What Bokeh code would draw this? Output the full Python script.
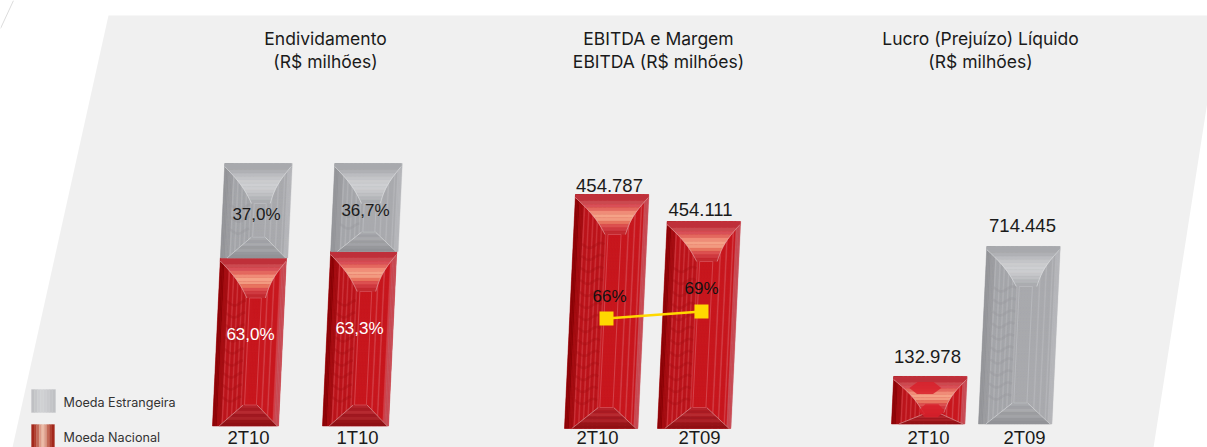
import math
from bokeh.plotting import figure
from bokeh.models import Range1d
from bokeh.core.properties import value
from bokeh.embed import file_html
from bokeh.resources import INLINE

# ---------- data ----------
debt_periods = ["2T10", "1T10"]
debt_national_labels = ["63,0%", "63,3%"]
debt_foreign_labels = ["37,0%", "36,7%"]
debt_national_drawn = [64.0, 66.5]     # share as drawn in the picture
debt_foreign_drawn = [36.0, 33.5]

ebitda_periods = ["2T10", "2T09"]
ebitda_labels = ["454.787", "454.111"]
ebitda_drawn = [454787, 402300]        # height as drawn in the picture
margin_values = [66, 69]
margin_labels = ["66%", "69%"]

profit_periods = ["2T10", "2T09"]
profit_labels = ["132.978", "714.445"]
profit_drawn = [191200, 714445]        # height as drawn in the picture

legend_labels = ["Moeda Estrangeira", "Moeda Nacional"]
titles = [["Endividamento", "(R$ milhões)"],
          ["EBITDA e Margem", "EBITDA (R$ milhões)"],
          ["Lucro (Prejuízo) Líquido", "(R$ milhões)"]]

# ---------- layout & style ----------
W, H = 1207, 447
SLOPE = 0.047
FONT = "Liberation Sans"
TITLE_FONT = "Inter"
RED = dict(dark="#8c0508", dark2="#a30d12", mid="#bb151c", main="#c8181f", light="#cb343b", light2="#d23f47", edge="#c9505a",
           top=["#bf303a", "#cb4a50", "#d85058", "#e4685f", "#f08c78", "#f5a287", "#f29a80", "#e8745f", "#dc5050", "#cf3a40", "#c32a30"],
           bot=["#b5222b", "#a81a22", "#b62a30", "#a01820", "#ab2228", "#961418", "#8f1014"],
           seam="#eab7b7", rect="#d9535c", wave="#a80f15")
GREY = dict(dark="#949599", dark2="#9b9ca0", mid="#a4a5a9", main="#a9aaae", light="#b0b1b5", light2="#b4b5b9", edge="#b6b7bb",
            top=["#a8a9ad", "#b0b1b5", "#bbbcc0", "#c4c5c8", "#cbccce", "#cecfd2", "#cccdd0", "#c6c7ca", "#bfc0c3", "#b5b6ba", "#abacb0"],
            bot=["#a8a9ad", "#a0a1a5", "#a9aaae", "#9b9ca0", "#a2a3a7", "#97989c", "#929397"],
            seam="#e4e5e7", rect="#bcbdc1", wave="#98999d")

p = figure(width=W, height=H, x_range=Range1d(0, W), y_range=Range1d(H, 0),
           toolbar_location=None, output_backend="svg", min_border=0,
           background_fill_color="white", border_fill_color="white", outline_line_color=None)
p.axis.visible = False
p.grid.visible = False
p.styles = {"position": "absolute", "left": "0px", "top": "0px"}

DEBT_SCALE = 262.5 / 100
EBITDA_SCALE = 234 / 454787
PROFIT_SCALE = 177.5 / 714445
MARGIN_SCALE = 7 / 3
extra = dict(p.extra_y_ranges)
extra["debt"] = Range1d(-(H - 425.5) / DEBT_SCALE, 425.5 / DEBT_SCALE)
extra["ebitda"] = Range1d(-(H - 428) / EBITDA_SCALE, 428 / EBITDA_SCALE)
extra["profit"] = Range1d(-(H - 423.5) / PROFIT_SCALE, 423.5 / PROFIT_SCALE)
extra["margin"] = Range1d(66 - (H - 318) / MARGIN_SCALE, 66 + 318 / MARGIN_SCALE)
p.extra_y_ranges = extra

# page background panel and corner line
p.patch([108, W, W, 1153, 12], [15, 15, 101, H, H], fill_color="#f0f0f0", line_color=None)
p.line([13, 0], [0, 28], line_color="#dcdcdc", line_width=1)

def gem(xb, w, v0, v1, scale, rng, pal):
    h = (v1 - v0) * scale
    lift = v0 * scale
    X = lambda u, t: xb + SLOPE * (lift + t) + u
    Y = lambda t: v0 + t / scale
    poly = lambda pts: ([X(u, t) for u, t in pts], [Y(t) for u, t in pts])
    xs, ys, cs = [], [], []
    def add(pts, c):
        a, b = poly(pts)
        xs.append(a); ys.append(b); cs.append(c)
    add([(0, 0), (w, 0), (w, h), (0, h)], pal["main"])
    step = 1.5
    u = 0.0
    i = 0
    while u < w:
        f = u / w
        if f < 0.06:
            c = pal["dark"]
        elif f < 0.12:
            c = pal["dark2"]
        elif f < 0.45:
            c = pal["light"] if i % 3 == 0 else pal["mid"]
        elif f < 0.66:
            c = pal["main"]
        elif f < 0.93:
            c = pal["light2"] if i % 4 == 0 else pal["main"]
        else:
            c = pal["edge"]
        add([(u, 0), (u + step, 0), (u + step, h), (u, h)], c)
        u += step
        i += 1
    d = min(40, 0.76 * h)
    b = min(21, 0.22 * h)
    il, ir = 0.43 * w, 0.71 * w
    bl, br = 0.45 * w, 0.66 * w
    rl, rr = 0.47 * w, 0.65 * w
    # bottom facet
    n = len(pal["bot"])
    for k, c in enumerate(pal["bot"]):
        t0, t1 = b * (n - 1 - k) / n, b * (n - k) / n
        lx = lambda t: 0.1 * w + (bl - 0.1 * w) * t / b
        rx = lambda t: 0.98 * w + (br - 0.98 * w) * t / b
        add([(lx(t0), t0), (rx(t0), t0), (rx(t1), t1), (lx(t1), t1)], c)
    # top facet, with a flat band above it
    add([(0, h - 4), (w, h - 4), (w, h), (0, h)], pal["top"][0])
    n = len(pal["top"])
    edge = lambda q: il * (q + 0.10 * math.sin(math.pi * q))
    redge = lambda q: w - (w - ir) * (q + 0.16 * math.sin(math.pi * q))
    for k, c in enumerate(pal["top"]):
        q0, q1 = k / n, (k + 1) / n
        t0, t1 = h - 3 - (d - 3) * q0, h - 3 - (d - 3) * q1
        add([(edge(q0), t0), (redge(q0), t0), (redge(q1), t1), (edge(q1), t1)], c)
    p.patches(xs, ys, fill_color=cs, line_color=cs, line_width=0.3, y_range_name=rng)
    # wavy moire on the left facet
    if h > 60:
        wx, wy = [], []
        t = b + 6
        while t < h - d:
            a, bb = [], []
            for j in range(int(0.33 * w / 1.5)):
                uu = 0.12 * w + j * 1.5
                tt = t + 2.5 * math.sin(uu / 3.5)
                a.append(X(uu, tt)); bb.append(Y(tt))
            wx.append(a); wy.append(bb)
            t += 12
        p.multi_line(wx, wy, line_color=pal["wave"], line_width=2.5, line_alpha=0.4, y_range_name=rng)
    # seams
    sx, sy = [], []
    def seam(pts):
        a, bb = poly(pts)
        sx.append(a); sy.append(bb)
    seam([(edge(q / 10), h - 3 - (d - 3) * q / 10) for q in range(11)])
    seam([(redge(q / 10), h - 3 - (d - 3) * q / 10) for q in range(11)])
    seam([(0.1 * w, 0), (bl, b)])
    seam([(0.98 * w, 0), (br, b)])
    p.multi_line(sx, sy, line_color=pal["seam"], line_width=0.8, line_alpha=0.7, y_range_name=rng)
    if h - d - b > 4:
        a, bb = poly([(rl, b), (rl, h - d), (rr, h - d), (rr, b), (rl, b)])
        p.line(a, bb, line_color=pal["rect"], line_width=0.9, line_alpha=0.8, y_range_name=rng)
    # jewels that show through on a short bar
    if h < 2 * d:
        jx, jy = [], []
        for cu, ct, hw, hh in [(0.44 * w, 0.76 * h, 16, 6), (0.54 * w, 0.28 * h, 13, 6.5)]:
            a, bb = poly([(cu - hw, ct), (cu - hw / 2, ct + hh), (cu + hw / 2, ct + hh), (cu + hw, ct), (cu + hw / 2, ct - hh), (cu - hw / 2, ct - hh)])
            jx.append(a); jy.append(bb)
        p.patches(jx, jy, fill_color="#d8202a", fill_alpha=0.85, line_color=None, y_range_name=rng)

# ---------- bars ----------
debt_x, debt_w = [212, 322], 66
for i in range(2):
    gem(debt_x[i], debt_w, 0, debt_national_drawn[i], DEBT_SCALE, "debt", RED)
    gem(debt_x[i], debt_w + 0.5, debt_national_drawn[i], debt_national_drawn[i] + debt_foreign_drawn[i], DEBT_SCALE, "debt", GREY)

ebitda_x, bar_w = [564, 657], 73
for i in range(2):
    gem(ebitda_x[i], bar_w, 0, ebitda_drawn[i], EBITDA_SCALE, "ebitda", RED)

profit_x = [891, 978]
profit_pal = [RED, GREY]
for i in range(2):
    gem(profit_x[i], bar_w, 0, profit_drawn[i], PROFIT_SCALE, "profit", profit_pal[i])

# margin line
margin_x = [606, 701]
p.line(margin_x, margin_values, line_color="#FFD800", line_width=2.5, y_range_name="margin")
p.scatter(margin_x, margin_values, marker="square", size=14, fill_color="#FFD800", line_color=None, y_range_name="margin")

# ---------- text ----------
def label(x, y, txt, color="#1a1a1a", size="17px", font=FONT, align="center", rng="default", yoff=0):
    p.text([x], [y], text=[txt], text_font=value(font), text_font_size=size, text_color=color,
           text_align=align, text_baseline="middle", y_offset=yoff, y_range_name=rng)

title_x = [325, 658, 980]
for tx, lines in zip(title_x, titles):
    label(tx, 37.5, lines[0], size="17.5px", font=TITLE_FONT)
    label(tx, 60.5, lines[1], size="17.5px", font=TITLE_FONT)

TICK_Y = 436.5
for cx, t in zip([248, 357], debt_periods):
    label(cx, TICK_Y, t, size="18.5px")
for cx, t in zip([597, 699], ebitda_periods):
    label(cx, TICK_Y, t, size="18.5px")
for cx, t in zip([928, 1024], profit_periods):
    label(cx, TICK_Y, t, size="18.5px")

for cx, v, t, off in zip([250, 359], debt_national_drawn, debt_national_labels, [76, 77]):
    label(cx, v, t, color="#ffffff", rng="debt", yoff=off)
for cx, v, d, t, off in zip([256, 365], debt_national_drawn, debt_foreign_drawn, debt_foreign_labels, [51, 47]):
    label(cx, v + d, t, rng="debt", yoff=off)

for cx, v, t, off in zip([609, 700], ebitda_drawn, ebitda_labels, [-9, -12]):
    label(cx, v, t, rng="ebitda", yoff=off, size="18.5px")
for cx, v, t, off in zip([609, 701], margin_values, margin_labels, [-22, -23]):
    label(cx, v, t, color="#111111", rng="margin", yoff=off)
for cx, v, t, off in zip([927, 1022], profit_drawn, profit_labels, [-20, -21]):
    label(cx, v, t, rng="profit", yoff=off, size="18.5px")

# ---------- legend ----------
grey_band = ["#bfc0c3", "#c6c7ca", "#cdced1", "#d0d1d3", "#cdced1", "#c9cacd", "#c4c5c8", "#c0c1c4"]
red_band = ["#a3281c", "#b04030", "#c46a58", "#dc9c88", "#ecbca8", "#dc9c88", "#c46a58", "#b04030", "#a3281c"]
def swatch(x0, y0, w, h, band):
    n = len(band)
    xs = [[x0 + w * k / n, x0 + w * (k + 1) / n, x0 + w * (k + 1) / n, x0 + w * k / n] for k in range(n)]
    ys = [[y0, y0, y0 + h, y0 + h] for _ in range(n)]
    p.patches(xs, ys, fill_color=band, line_color=band, line_width=0.3)
swatch(31, 389, 24, 23, grey_band)
swatch(31, 424, 23, 23, red_band)
label(63, 402, legend_labels[0], color="#333333", size="12.6px", font="Inter", align="left")
label(63, 437, legend_labels[1], color="#333333", size="12.6px", font="Inter", align="left")

open("out.html", "w").write(file_html(p, INLINE))
